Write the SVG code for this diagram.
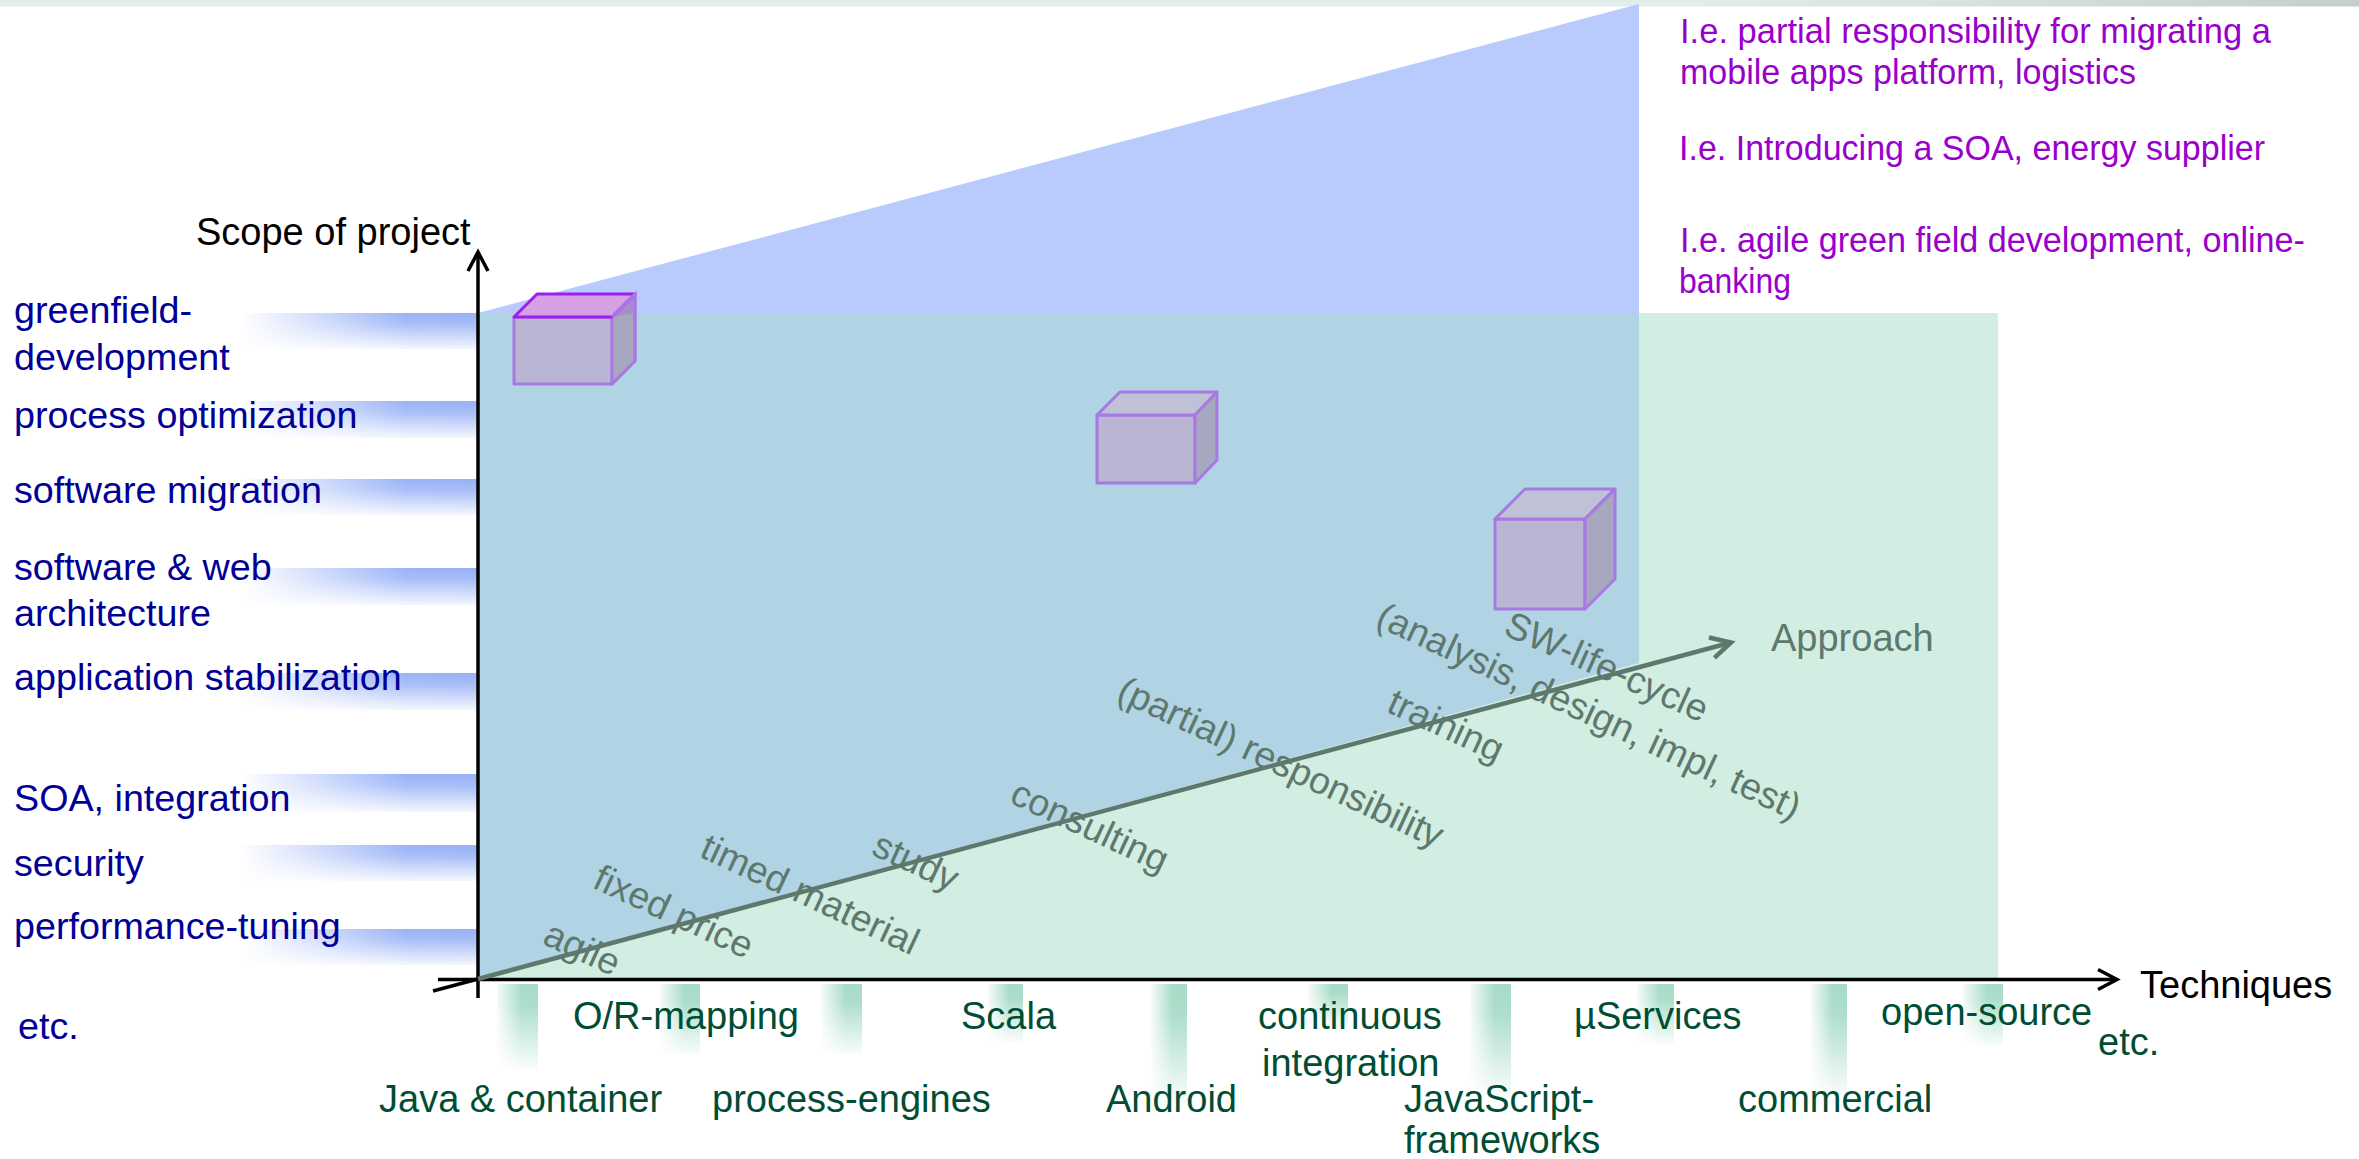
<svg xmlns="http://www.w3.org/2000/svg" width="2359" height="1159" viewBox="0 0 2359 1159">
  <style>
    .scope { font-family: "Liberation Sans", Arial, sans-serif; font-size: 37.7px; fill: #000096; }
    .tech { font-family: "Liberation Sans", Arial, sans-serif; font-size: 38px; fill: #004d33; }
    .axis-title { font-family: "Liberation Sans", Arial, sans-serif; font-size: 38px; fill: #000; }
    .appr { font-family: "Liberation Sans", Arial, sans-serif; font-size: 37.5px; fill: #5f786d; }
    .example { font-family: "Liberation Sans", Arial, sans-serif; font-size: 35px; fill: #9900cc; }
    .axis { stroke: #000; stroke-width: 3.5; fill: none; }
    .approach { stroke: #5f786d; stroke-width: 4.5; fill: none; }
    .face-front { fill: #b9b5d3; stroke: #a878e4; stroke-width: 3; stroke-linejoin: round; }
    .face-top { fill: #bfc1d6; stroke: #a878e4; stroke-width: 3; stroke-linejoin: round; }
    .face-right { fill: #a7a8bf; stroke: #a878e4; stroke-width: 3; stroke-linejoin: round; }
  </style>
  <defs>
    <linearGradient id="stripGrad" x1="0" y1="0" x2="1" y2="0">
      <stop offset="0" stop-color="#e1ede8"/>
      <stop offset="0.72" stop-color="#e1ede8"/>
      <stop offset="0.86" stop-color="#d5dedb"/>
      <stop offset="1" stop-color="#c6cdca"/>
    </linearGradient>
    <!-- blue highlight band behind the scope labels -->
    <linearGradient id="bandH" x1="0" y1="0" x2="1" y2="0">
      <stop offset="0" stop-color="#9ab3f7" stop-opacity="0"/>
      <stop offset="0.7" stop-color="#9ab3f7" stop-opacity="1"/>
      <stop offset="1" stop-color="#98b1f6" stop-opacity="1"/>
    </linearGradient>
    <linearGradient id="bandFade" x1="0" y1="0" x2="0" y2="1">
      <stop offset="0" stop-color="#fff" stop-opacity="0"/>
      <stop offset="0.3" stop-color="#fff" stop-opacity="0.15"/>
      <stop offset="1" stop-color="#fff" stop-opacity="0.9"/>
    </linearGradient>
    <!-- green highlight bar above the technique labels -->
    <linearGradient id="barH" x1="0" y1="0" x2="1" y2="0">
      <stop offset="0" stop-color="#a8dcc8" stop-opacity="0.1"/>
      <stop offset="0.6" stop-color="#a8dcc8" stop-opacity="1"/>
      <stop offset="1" stop-color="#a8dcc8" stop-opacity="1"/>
    </linearGradient>
    <linearGradient id="barFade" x1="0" y1="0" x2="0" y2="1">
      <stop offset="0" stop-color="#fff" stop-opacity="0"/>
      <stop offset="0.25" stop-color="#fff" stop-opacity="0.05"/>
      <stop offset="1" stop-color="#fff" stop-opacity="0.95"/>
    </linearGradient>
    <marker id="arrowBlack" markerUnits="userSpaceOnUse" markerWidth="30" markerHeight="30" refX="0" refY="0" orient="auto" overflow="visible">
      <path d="M -19,-10 L 0,0 L -19,10" fill="none" stroke="#000" stroke-width="3.5" stroke-linejoin="miter"/>
    </marker>
    <marker id="arrowGreen" markerUnits="userSpaceOnUse" markerWidth="30" markerHeight="30" refX="0" refY="0" orient="auto" overflow="visible">
      <path d="M -20,-10.5 L 0,0 L -20,10.5" fill="none" stroke="#5f786d" stroke-width="4.5" stroke-linejoin="miter"/>
    </marker>
  </defs>

  <rect width="2359" height="1159" fill="#fff"/>
  <rect x="0" y="0" width="2359" height="6.5" fill="url(#stripGrad)"/>

  <!-- areas: scope wedge, technique field and their overlap -->
  <g id="areas">
    <polygon points="478,313 1639,4 1639,313" fill="#b8cbfc"/>
    <rect x="478" y="313" width="1520" height="666" fill="#d2ede1"/>
    <polygon points="478,313 1639,313 1639,663 478,979" fill="#b0d4e3"/>
  </g>

  <!-- scope bands -->
  <g id="scope-bands">
    <rect x="240" y="313" width="238" height="36" fill="url(#bandH)"/><rect x="240" y="313" width="238" height="36" fill="url(#bandFade)"/>
    <rect x="240" y="401" width="238" height="37" fill="url(#bandH)"/><rect x="240" y="401" width="238" height="37" fill="url(#bandFade)"/>
    <rect x="240" y="479" width="238" height="36" fill="url(#bandH)"/><rect x="240" y="479" width="238" height="36" fill="url(#bandFade)"/>
    <rect x="240" y="568" width="238" height="37" fill="url(#bandH)"/><rect x="240" y="568" width="238" height="37" fill="url(#bandFade)"/>
    <rect x="240" y="673" width="238" height="37" fill="url(#bandH)"/><rect x="240" y="673" width="238" height="37" fill="url(#bandFade)"/>
    <rect x="240" y="774" width="238" height="38" fill="url(#bandH)"/><rect x="240" y="774" width="238" height="38" fill="url(#bandFade)"/>
    <rect x="240" y="845" width="238" height="36" fill="url(#bandH)"/><rect x="240" y="845" width="238" height="36" fill="url(#bandFade)"/>
    <rect x="240" y="929" width="238" height="36" fill="url(#bandH)"/><rect x="240" y="929" width="238" height="36" fill="url(#bandFade)"/>
  </g>

  <!-- technique bars -->
  <g id="technique-bars">
    <rect x="497" y="984" width="41" height="85" fill="url(#barH)"/><rect x="497" y="984" width="41" height="85" fill="url(#barFade)"/>
    <rect x="660" y="984" width="40" height="71" fill="url(#barH)"/><rect x="660" y="984" width="40" height="71" fill="url(#barFade)"/>
    <rect x="821" y="984" width="41" height="71" fill="url(#barH)"/><rect x="821" y="984" width="41" height="71" fill="url(#barFade)"/>
    <rect x="988" y="984" width="35" height="58" fill="url(#barH)"/><rect x="988" y="984" width="35" height="58" fill="url(#barFade)"/>
    <rect x="1151" y="984" width="36" height="121" fill="url(#barH)"/><rect x="1151" y="984" width="36" height="121" fill="url(#barFade)"/>
    <rect x="1308" y="984" width="40" height="43" fill="url(#barH)"/><rect x="1308" y="984" width="40" height="43" fill="url(#barFade)"/>
    <rect x="1470" y="984" width="41" height="113" fill="url(#barH)"/><rect x="1470" y="984" width="41" height="113" fill="url(#barFade)"/>
    <rect x="1637" y="984" width="37" height="60" fill="url(#barH)"/><rect x="1637" y="984" width="37" height="60" fill="url(#barFade)"/>
    <rect x="1811" y="984" width="36" height="113" fill="url(#barH)"/><rect x="1811" y="984" width="36" height="113" fill="url(#barFade)"/>
    <rect x="1963" y="984" width="40" height="62" fill="url(#barH)"/><rect x="1963" y="984" width="40" height="62" fill="url(#barFade)"/>
  </g>

  <!-- project cubes -->
  <g id="cube-greenfield">
    <rect class="face-front" x="514" y="317" width="98" height="67"/>
    <polygon class="face-right" points="612,317 635,294 635,361 612,384"/>
    <polygon points="612,317 635,294 635,313 612,317" fill="#a98ccc"/>
    <polygon points="514,317 537,294 635,294 612,317" fill="#d5a1e3" stroke="#a01df0" stroke-width="3" stroke-linejoin="round"/>
    <polyline points="612,317 635,294 635,361 612,384" fill="none" stroke="#a878e4" stroke-width="3"/>
  </g>
  <g id="cube-soa">
    <rect class="face-front" x="1097" y="415" width="98" height="68"/>
    <polygon class="face-top" points="1097,415 1120,392 1217,392 1195,415"/>
    <polygon class="face-right" points="1195,415 1217,392 1217,460 1195,483"/>
  </g>
  <g id="cube-migration">
    <rect class="face-front" x="1495" y="519" width="90" height="90"/>
    <polygon class="face-top" points="1495,519 1525,489 1615,489 1585,519"/>
    <polygon class="face-right" points="1585,519 1615,489 1615,579 1585,609"/>
  </g>

  <!-- axes and approach arrow -->
  <g id="connectors">
    <line class="axis" x1="478" y1="998" x2="478" y2="252" marker-end="url(#arrowBlack)"/>
    <line class="axis" x1="438" y1="979.5" x2="2117" y2="979.5" marker-end="url(#arrowBlack)"/>
    <line class="axis" x1="433" y1="991" x2="478" y2="979" stroke-width="4"/>
    <line class="approach" x1="478" y1="979" x2="1731" y2="642.5" marker-end="url(#arrowGreen)"/>
  </g>

  <g id="axis-titles">
    <text class="axis-title" x="196" y="245">Scope of project</text>
    <text class="axis-title" x="2140" y="998">Techniques</text>
    <text class="appr" x="1771" y="651" style="font-size:38px">Approach</text>
  </g>

  <!-- approach steps along the diagonal -->
  <g id="approach-labels">
    <text class="appr" transform="translate(541,943) rotate(25)">agile</text>
    <text class="appr" transform="translate(591,887) rotate(25)">fixed price</text>
    <text class="appr" transform="translate(698,856) rotate(25)">timed material</text>
    <text class="appr" transform="translate(870,854) rotate(25)">study</text>
    <text class="appr" transform="translate(1008,802) rotate(25)">consulting</text>
    <text class="appr" transform="translate(1115,699) rotate(25)">(partial) responsibility</text>
    <text class="appr" transform="translate(1385,711) rotate(25)">training</text>
    <text class="appr" transform="translate(1374,625) rotate(25)">(analysis, design, impl, test)</text>
    <text class="appr" transform="translate(1502,634) rotate(24)">SW-life-cycle</text>
  </g>

  <!-- scope labels -->
  <g id="scope-labels">
    <text class="scope" x="14" y="323">greenfield-</text>
    <text class="scope" x="14" y="370">development</text>
    <text class="scope" x="14" y="428">process optimization</text>
    <text class="scope" x="14" y="503">software migration</text>
    <text class="scope" x="14" y="580">software &amp; web</text>
    <text class="scope" x="14" y="626">architecture</text>
    <text class="scope" x="14" y="690">application stabilization</text>
    <text class="scope" x="14" y="811">SOA, integration</text>
    <text class="scope" x="14" y="876">security</text>
    <text class="scope" x="14" y="939">performance-tuning</text>
    <text class="scope" x="18" y="1039">etc.</text>
  </g>

  <!-- technique labels -->
  <g id="technique-labels">
    <text class="tech" x="573" y="1029">O/R-mapping</text>
    <text class="tech" x="379" y="1112">Java &amp; container</text>
    <text class="tech" x="712" y="1112">process-engines</text>
    <text class="tech" x="961" y="1029">Scala</text>
    <text class="tech" x="1106" y="1112">Android</text>
    <text class="tech" x="1258" y="1029">continuous</text>
    <text class="tech" x="1262" y="1076">integration</text>
    <text class="tech" x="1404" y="1112">JavaScript-</text>
    <text class="tech" x="1404" y="1153">frameworks</text>
    <text class="tech" x="1574" y="1029">µServices</text>
    <text class="tech" x="1738" y="1112">commercial</text>
    <text class="tech" x="1881" y="1025">open-source</text>
    <text class="tech" x="2098" y="1055">etc.</text>
  </g>

  <!-- example projects -->
  <g id="examples" xml:space="preserve">
    <text class="example" x="1680" y="43" textLength="591" lengthAdjust="spacingAndGlyphs">I.e. partial  responsibility  for migrating  a</text>
    <text class="example" x="1680" y="84" textLength="456" lengthAdjust="spacingAndGlyphs">mobile  apps  platform,  logistics</text>
    <text class="example" x="1679" y="160" textLength="586" lengthAdjust="spacingAndGlyphs">I.e. Introducing  a SOA,  energy  supplier</text>
    <text class="example" x="1680" y="252" textLength="625" lengthAdjust="spacingAndGlyphs">I.e. agile  green  field development,  online-</text>
    <text class="example" x="1679" y="293" textLength="112" lengthAdjust="spacingAndGlyphs">banking</text>
  </g>
</svg>
